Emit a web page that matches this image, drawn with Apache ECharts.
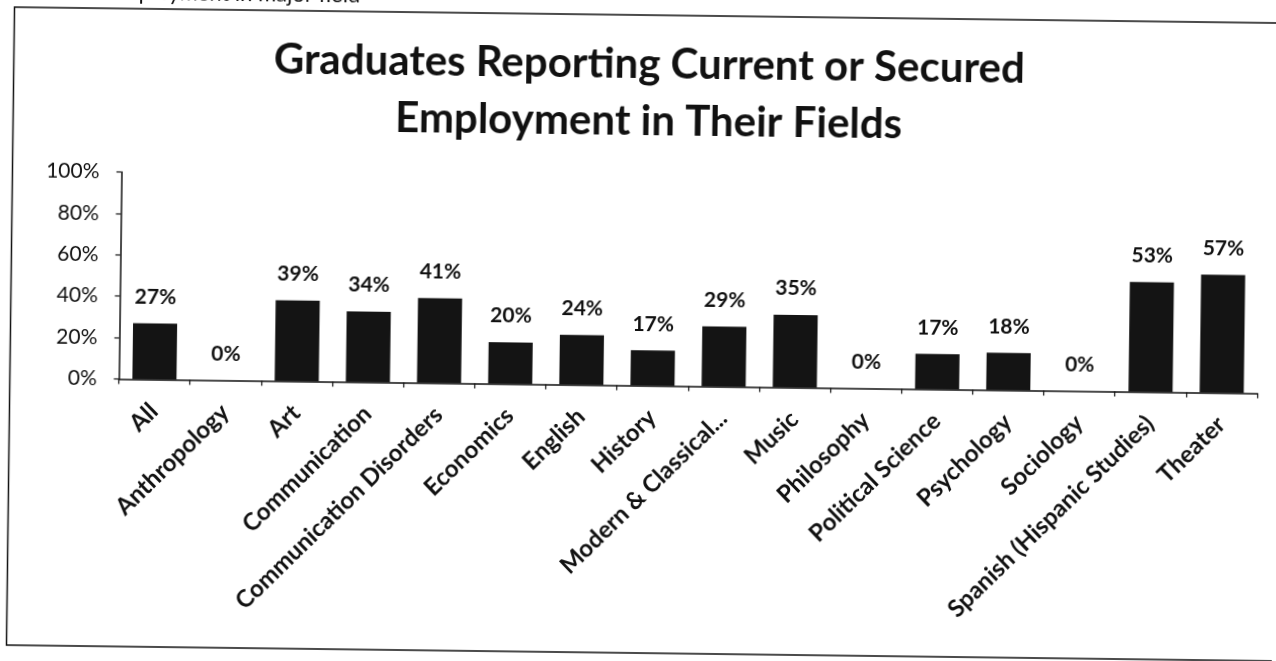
<!DOCTYPE html>
<html>
<head>
<meta charset="utf-8">
<script src="https://cdn.jsdelivr.net/npm/echarts@6/dist/echarts.min.js"></script>
<style>
  html, body { margin: 0; padding: 0; background: #ffffff; overflow: hidden; }
  #chart {
    width: 1276px;
    height: 661px;
    transform: rotate(0.72deg);
    transform-origin: 638px 330px;
  }
</style>
</head>
<body>
<div id="chart"></div>
<script>
// Majors, in the order they appear along the axis
const categories = [
  'All', 'Anthropology', 'Art', 'Communication', 'Communication Disorders',
  'Economics', 'English', 'History', 'Modern & Classical...', 'Music',
  'Philosophy', 'Political Science', 'Psychology', 'Sociology',
  'Spanish (Hispanic Studies)', 'Theater'
];

// Share of graduates reporting current or secured employment in their field (%)
const employedInField = [27, 0, 39, 34, 41, 20, 24, 17, 29, 35, 0, 17, 18, 0, 53, 57];

// Value-axis ticks (%)
const yTicks = [0, 20, 40, 60, 80, 100];

const titleLines = ['Graduates Reporting Current or Secured', 'Employment in Their Fields'];
const headerNote = 'Employment in major field';

const ink = '#111111';
const fontFamily = 'Lato, "Open Sans", "DejaVu Sans", sans-serif';

const chart = echarts.init(document.getElementById('chart'), null, { renderer: 'canvas' });

chart.setOption({
  backgroundColor: '#ffffff',
  animation: false,
  title: {
    text: titleLines.join('\n'),
    left: 641,
    top: 31,
    textAlign: 'center',
    textStyle: {
      fontFamily: fontFamily,
      fontSize: 42,
      fontWeight: 'bold',
      color: ink,
      lineHeight: 57
    }
  },
  graphic: [
    {
      type: 'rect',
      z: -1,
      silent: true,
      shape: { x: 10.5, y: 15, width: 1290, height: 638 },
      style: { fill: 'none', stroke: ink, lineWidth: 1.5 }
    },
    {
      type: 'text',
      silent: true,
      x: 104,
      y: 10,
      style: {
        text: headerNote,
        fontFamily: fontFamily,
        fontSize: 22,
        fill: ink,
        verticalAlign: 'bottom'
      }
    }
  ],
  grid: {
    left: 119.5,
    right: 18,
    top: 178.5,
    bottom: 661 - 385.5,
    containLabel: false
  },
  xAxis: {
    type: 'category',
    data: categories,
    axisLine: { show: true, lineStyle: { color: ink, width: 1.5 } },
    axisTick: { show: true, alignWithLabel: false, length: 5, lineStyle: { color: ink, width: 1.2 } },
    axisLabel: {
      interval: 0,
      rotate: 45,
      margin: 28,
      fontFamily: fontFamily,
      fontSize: 24,
      fontWeight: 'bold',
      color: ink
    },
    splitLine: { show: false }
  },
  yAxis: {
    type: 'value',
    min: yTicks[0],
    max: yTicks[yTicks.length - 1],
    interval: yTicks[1] - yTicks[0],
    axisLine: { show: true, lineStyle: { color: ink, width: 1.5 } },
    axisTick: { show: true, inside: false, length: 5, lineStyle: { color: ink, width: 1.2 } },
    axisLabel: {
      margin: 22,
      formatter: '{value}%',
      fontFamily: fontFamily,
      fontSize: 21,
      color: ink
    },
    splitLine: { show: false }
  },
  series: [
    {
      type: 'bar',
      data: employedInField,
      barWidth: '62%',
      itemStyle: { color: '#141414' },
      label: {
        show: true,
        position: 'top',
        distance: 16,
        formatter: '{c}%',
        fontFamily: fontFamily,
        fontSize: 21,
        fontWeight: 'bold',
        color: ink
      }
    }
  ]
});
</script>
</body>
</html>
